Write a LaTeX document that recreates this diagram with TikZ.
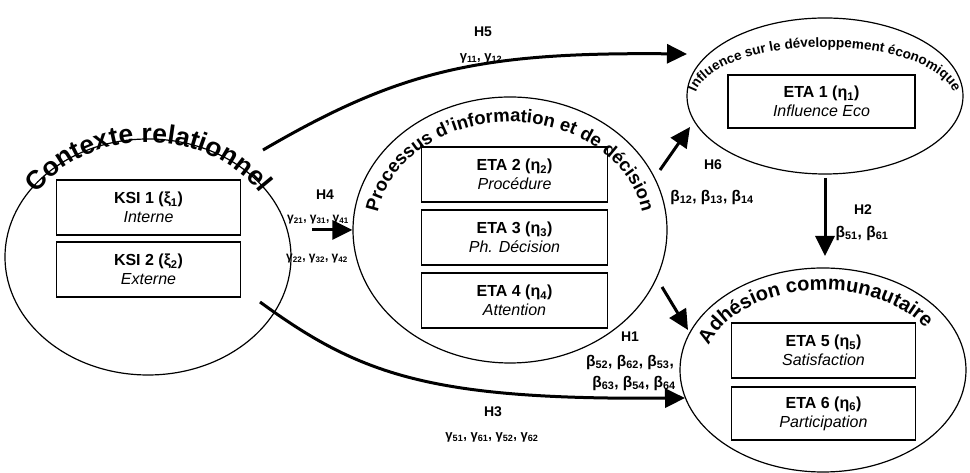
\documentclass[tikz,border=0pt]{standalone}
\usepackage{fontspec}
\setmainfont{Liberation Sans}
\usetikzlibrary{arrows.meta,shapes.geometric,decorations.text}
\newcommand\Bt[1]{β\textsubscript{#1}}
\newcommand\Gm[1]{γ\textsubscript{#1}}
\newcommand\ttlf[1]{\bfseries\fontsize{#1}{#1}\selectfont}
\begin{document}
\begin{tikzpicture}[x=1pt,y=1pt,
  oval/.style={ellipse, draw, line width=1.2pt, inner sep=0pt},
  box/.style={draw, line width=1.3pt, rectangle, minimum height=55pt, minimum width=184pt, align=center, inner sep=0pt, font=\fontsize{16}{19}\selectfont},
  conn/.style={line width=3pt, -{Triangle[length=20pt,width=19pt]}},
  hlab/.style={font=\bfseries\fontsize{14}{14}\selectfont, inner sep=0pt},
  glab/.style={font=\bfseries\fontsize{13}{14}\selectfont, inner sep=0pt},
  blab/.style={font=\bfseries\fontsize{15.5}{16}\selectfont, inner sep=0pt},
  curved/.style 2 args={decorate, decoration={text along path, text align=center, text={|\ttlf{#1}|#2}}}
]
\useasboundingbox (0,0) rectangle (970,473);
% ellipses
\node[oval, minimum width=286pt, minimum height=236pt] (L) at (148,216) {};
\node[oval, minimum width=314pt, minimum height=266pt] (M) at (510,243) {};
\node[oval, minimum width=276pt, minimum height=156pt] (TR) at (825,377) {};
\node[oval, minimum width=286pt, minimum height=204pt] (BR) at (823,103) {};
% curved titles
\path[curved={26.5}{Contexte relationnel}] (26.8,264.9) arc[start angle=155, end angle=25, x radius=134, y radius=114];
\path[curved={18.5}{Processus d'information et de décision}] (376,243) arc[start angle=180, end angle=0, x radius=134, y radius=108];
\path[curved={13.5}{Influence sur le développement économique}] (697.5,361.9) arc[start angle=192, end angle=-12, x radius=130, y radius=53];
\path[curved={20}{Adhésion communautaire}] (704.8,116.9) arc[start angle=170, end angle=24, x radius=120, y radius=80];
% boxes
\node[box] (k1) at (148.5,265.5) {\textbf{KSI 1 (ξ\textsubscript{1})}\\\textit{Interne}};
\node[box] (k2) at (148.5,203.5) {\textbf{KSI 2 (ξ\textsubscript{2})}\\\textit{Externe}};
\node[box, minimum width=186pt] (e2) at (514.5,298.5) {\textbf{ETA 2 (η\textsubscript{2})}\\\textit{Procédure}};
\node[box, minimum width=186pt] (e3) at (514.5,235.5) {\textbf{ETA 3 (η\textsubscript{3})}\\\textit{Ph. Décision}};
\node[box, minimum width=186pt] (e4) at (514.5,172.5) {\textbf{ETA 4 (η\textsubscript{4})}\\\textit{Attention}};
\node[box, minimum width=187pt, minimum height=53pt] (e1) at (821.5,371.5) {\textbf{ETA 1 (η\textsubscript{1})}\\\textit{Influence Eco}};
\node[box, minimum width=184pt] (e5) at (823.5,122.5) {\textbf{ETA 5 (η\textsubscript{5})}\\\textit{Satisfaction}};
\node[box, minimum width=184pt, minimum height=53pt] (e6) at (823.5,59.5) {\textbf{ETA 6 (η\textsubscript{6})}\\\textit{Participation}};
% connector ends
\coordinate (h5s) at (263,323);
\coordinate (h5e) at (687,419);
\coordinate (h3s) at (260,171);
\coordinate (h3e) at (685,75);
\coordinate (h4s) at (312,243);
\coordinate (h6s) at (660,303);
\coordinate (h6e) at (690,346);
\coordinate (h2s) at (825,295);
\coordinate (h2e) at (825,217);
\coordinate (h1s) at (662,186);
\coordinate (h1e) at (688,143);
% connectors
\draw[conn] (h5s) .. controls (400,403) and (480,421) .. (h5e);
\draw[conn] (h3s) .. controls (360,98) and (430,73) .. (h3e);
\draw[conn] (h4s) -- (M.west);
\draw[conn] (h6s) -- (h6e);
\draw[conn] (h2s) -- (h2e);
\draw[conn] (h1s) -- (h1e);
% labels
\node[hlab] (l5) at (483,441) {H5};
\node[glab] (g5) at (481,415) {\Gm{11}, \Gm{12}};
\node[hlab] (l4) at (325,278) {H4};
\node[glab, font=\bfseries\fontsize{12}{13}\selectfont] (g4a) at (318,253) {\Gm{21}, \Gm{31}, \Gm{41}};
\node[glab, font=\bfseries\fontsize{12}{13}\selectfont] (g4b) at (317,214) {\Gm{22}, \Gm{32}, \Gm{42}};
\node[hlab] (l6) at (713,308) {H6};
\node[blab] (b6) at (712,276) {\Bt{12}, \Bt{13}, \Bt{14}};
\node[hlab] (l2) at (863,263) {H2};
\node[blab] (b2) at (862,240) {\Bt{51}, \Bt{61}};
\node[hlab] (l1) at (630,136) {H1};
\node[blab] (b1a) at (630,111) {\Bt{52}, \Bt{62}, \Bt{53},};
\node[blab] (b1b) at (634,90) {\Bt{63}, \Bt{54}, \Bt{64}};
\node[hlab] (l3) at (493,61) {H3};
\node[glab] (g3) at (492,36) {\Gm{51}, \Gm{61}, \Gm{52}, \Gm{62}};
\end{tikzpicture}
\end{document}
